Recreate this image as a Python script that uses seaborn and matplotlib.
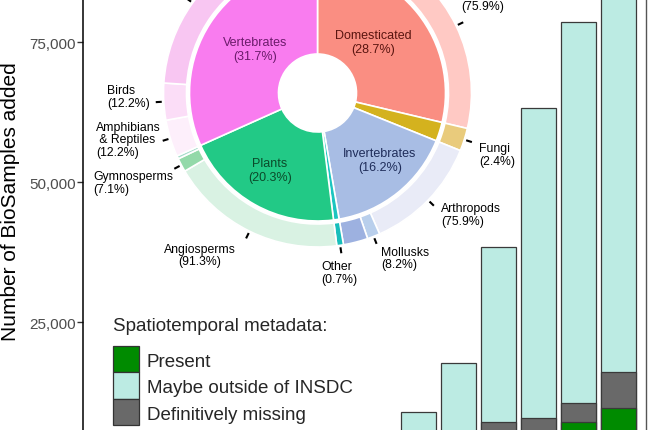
import numpy as np
import pandas as pd
import matplotlib
matplotlib.use("Agg")
import matplotlib.pyplot as plt
from matplotlib.patches import Rectangle
from matplotlib.ticker import StrMethodFormatter
import seaborn as sns

# ---------------- data: stacked bars ----------------
years = ["2018", "2019", "2020", "2021", "2022", "2023"]
present = [300, 500, 1000, 1500, 7200, 9700]
missing = [2000, 3000, 6200, 6400, 3400, 6500]
maybe = [6700, 14200, 31300, 55400, 68000, 71800]
status_labels = ["Present", "Maybe outside of INSDC", "Definitively missing"]
y_ticks = [25000, 50000, 75000]

# ---------------- data: donut ----------------
groups = ["Domesticated", "Fungi", "Invertebrates", "Other", "Plants", "Vertebrates"]
group_pct = [28.7, 2.4, 16.2, 0.7, 20.3, 31.7]
sub_names = [["Crops", "Livestock"],
             ["Fungi"],
             ["Arthropods", "Mollusks", "Other invertebrates"],
             ["Other"],
             ["Angiosperms", "Gymnosperms", "Other plants"],
             ["Amphibians\n & Reptiles", "Birds", "Mammals", "Fish"]]
sub_pct = [[24.1, 75.9],
           [100.0],
           [75.9, 8.2, 15.9],
           [100.0],
           [91.3, 7.1, 1.6],
           [12.2, 12.2, 56.3, 19.3]]

# ---------------- styles ----------------
sns.set_style("white")
plt.rcParams["font.family"] = ["Liberation Sans", "DejaVu Sans"]

c_present, c_maybe, c_missing = "#008B00", "#BCEBE3", "#696969"
inner_colors = ["#FA8E82", "#D4B21E", "#A8BDE4", "#1CC5C0", "#22C986", "#F97CEF"]
outer_colors = ["#FDB0A8", "#FFC9C4",
                "#E9CB7C",
                "#E9EBF7", "#B9CFEC", "#9DB1E0",
                "#17BEBB",
                "#D9F2E3", "#93D9A9", "#A8DCCB",
                "#FDEFFB", "#FBDDF7", "#F8C6F2", "#F5B2EE"]
inner_text_colors = {"Vertebrates": "#6B1B6B", "Domesticated": "#5A1510",
                     "Plants": "#0B4A2A", "Invertebrates": "#1F2D5A"}
inner_label_xy = {"Vertebrates": (-62.5, 44), "Domesticated": (55.5, 51),
                  "Plants": (-47.5, -77), "Invertebrates": (62.5, -67)}
outer_label_xy = {"Livestock": (143.5, 87, "left"),
                  "Fungi": (161.5, -61.5, "left"),
                  "Arthropods": (123.5, -121.5, "left"),
                  "Mollusks": (63.5, -165, "left"),
                  "Other": (4, -179.3, "left"),
                  "Angiosperms": (-117.5, -162, "center"),
                  "Gymnosperms": (-224.5, -89.5, "left"),
                  "Amphibians\n & Reptiles": (-221.5, -46.5, "left"),
                  "Birds": (-210.5, -3.5, "left")}
pct_only = {"Livestock"}          # name line lies above the visible area
no_leader = {"Other invertebrates", "Other plants"}

W, H = 650, 431
fig = plt.figure(figsize=(W / 100, H / 100), dpi=100)

# ---------------- bar chart ----------------
df = pd.DataFrame({"year": years, "present": present,
                   "missing": missing, "maybe": maybe})
df["lvl_missing"] = df["present"] + df["missing"]
df["lvl_total"] = df["lvl_missing"] + df["maybe"]

ax = fig.add_axes([83 / W, (H - 463.3) / H, 563 / W, 504 / H])
for col, c in [("lvl_total", c_maybe), ("lvl_missing", c_missing), ("present", c_present)]:
    sns.barplot(data=df, x="year", y=col, color=c, saturation=1, width=0.89,
                edgecolor="#3A3A3A", linewidth=0.9, errorbar=None, ax=ax)
ax.set_xlim(-8.385, 5.69)
ax.set_ylim(0, 90000)
ax.set_yticks(y_ticks)
ax.yaxis.set_major_formatter(StrMethodFormatter("{x:,.0f}"))
ax.tick_params(axis="y", labelsize=11, labelcolor="#4D4D4D", color="#333333",
               length=4.3, width=1, pad=1, left=True)
ax.tick_params(axis="x", bottom=False, labelbottom=False)
ax.set_xlabel("")
ax.set_ylabel("Number of BioSamples added", fontsize=15, color="black")
ax.yaxis.set_label_coords((20 - 83) / 563, 0.5185)
for s in ["top", "bottom"]:
    ax.spines[s].set_visible(False)
ax.spines["left"].set_color("black")
ax.spines["left"].set_linewidth(1.1)
ax.spines["right"].set_color("#555555")
ax.spines["right"].set_linewidth(1.0)

# ---------------- donut ----------------
R = 280
dax = fig.add_axes([(317.5 - R) / W, (H - 94 - R) / H, 2 * R / W, 2 * R / H])
dax.pie(group_pct, radius=128, startangle=90, counterclock=False, colors=inner_colors,
        wedgeprops=dict(width=89, edgecolor="white", linewidth=1.2))
flat_names = [n for subs in sub_names for n in subs]
outer_vals = [g * s / 100 for g, subs in zip(group_pct, sub_pct) for s in subs]
outer_pct_lbl = []
for g, subs in zip(group_pct, sub_pct):
    for s in subs:
        outer_pct_lbl.append(g if len(subs) == 1 else s)
dax.pie(outer_vals, radius=154, startangle=90, counterclock=False, colors=outer_colors,
        wedgeprops=dict(width=23, edgecolor="white", linewidth=1.2))
dax.set_xlim(-R, R)
dax.set_ylim(-R, R)
dax.set_aspect("equal")
dax.axis("off")
dax.patch.set_visible(False)

for g, p in zip(groups, group_pct):
    if g in inner_label_xy:
        x, y = inner_label_xy[g]
        dax.text(x, y, f"{g}\n({p}%)", ha="center", va="center", fontsize=9,
                 color=inner_text_colors[g], linespacing=1.12)

total = sum(outer_vals)
cum = 0.0
for name, v, p in zip(flat_names, outer_vals, outer_pct_lbl):
    mid = np.deg2rad(360 * (cum + v / 2) / total)
    cum += v
    if name not in no_leader:
        dax.plot([156 * np.sin(mid), 162 * np.sin(mid)],
                 [156 * np.cos(mid), 162 * np.cos(mid)],
                 color="black", lw=1.5, solid_capstyle="butt", clip_on=False)
    if name in outer_label_xy:
        x, y, ha = outer_label_xy[name]
        txt = f"({p}%)" if name in pct_only else f"{name}\n({p}%)"
        dax.text(x, y, txt, ha=ha, va="center", fontsize=8.8,
                 color="black", linespacing=1.1, clip_on=False)

# ---------------- legend ----------------
ov = fig.add_axes([0, 0, 1, 1])
ov.set_xlim(0, W)
ov.set_ylim(H, 0)
ov.axis("off")
ov.patch.set_visible(False)
ov.text(113, 331, "Spatiotemporal metadata:", fontsize=13.5, ha="left", va="baseline")
key_colors = [c_present, c_maybe, c_missing]
for i, (lab, c) in enumerate(zip(status_labels, key_colors)):
    top = 346.7 + i * 26.5
    ov.add_patch(Rectangle((112.7, top), 26.6, 26.5, facecolor=c,
                           edgecolor="#333333", linewidth=0.9))
    ov.text(147, top + 20, lab, fontsize=13.5, ha="left", va="baseline")

fig.savefig("out.png", dpi=100)
